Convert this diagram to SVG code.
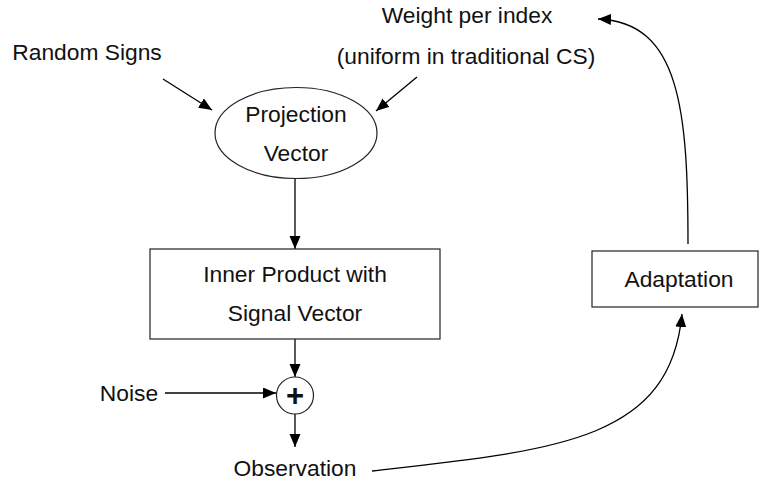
<svg xmlns="http://www.w3.org/2000/svg" width="760" height="482" viewBox="0 0 760 482">
<defs>
<marker id="ah" markerWidth="14" markerHeight="12" refX="13" refY="5.5" orient="auto" markerUnits="userSpaceOnUse">
<path d="M0,0 L13,5.5 L0,11 z" fill="#000"/>
</marker>
<style>
text{font-family:"Liberation Sans",Arial,sans-serif;font-size:22.8px;fill:#111;}
.c{text-anchor:middle;}
.shape{fill:#fff;stroke:#222;stroke-width:1.2;}
.edge{fill:none;stroke:#000;stroke-width:1.3;marker-end:url(#ah);}
</style>
</defs>
<rect width="760" height="482" fill="#fff"/>
<g id="connectors">
<path class="edge" d="M163,79 L212,110"/>
<path class="edge" d="M417,77 L376,111"/>
<path class="edge" d="M295,179 L295,249"/>
<path class="edge" d="M295,339 L295,377"/>
<path class="edge" d="M165,393 L276,393"/>
<path class="edge" d="M295,414 L295,447"/>
<path class="edge" d="M372,471 C560,450 670,440 682,314"/>
<path class="edge" d="M688,244 C688,110 680,22 598,19"/>
</g>
<g id="random-signs"><text x="87" y="60" class="c">Random Signs</text></g>
<g id="weight"><text x="467" y="23" class="c">Weight per index</text><text x="466" y="64" class="c">(uniform in traditional CS)</text></g>
<g id="projection"><ellipse class="shape" cx="296" cy="133" rx="81" ry="45.5"/><text x="296" y="122" class="c">Projection</text><text x="296" y="161" class="c">Vector</text></g>
<g id="inner-product"><rect class="shape" x="150" y="249" width="290" height="90"/><text x="295" y="282" class="c">Inner Product with</text><text x="295" y="321" class="c">Signal Vector</text></g>
<g id="sum"><circle class="shape" cx="295" cy="395.5" r="18.5"/><text x="295" y="406" class="c" style="font-size:31px;font-weight:bold">+</text></g>
<g id="noise"><text x="129" y="401" class="c">Noise</text></g>
<g id="observation"><text x="295" y="476" class="c">Observation</text></g>
<g id="adaptation"><rect class="shape" x="592" y="251" width="166" height="56"/><text x="679" y="287" class="c">Adaptation</text></g>
</svg>
